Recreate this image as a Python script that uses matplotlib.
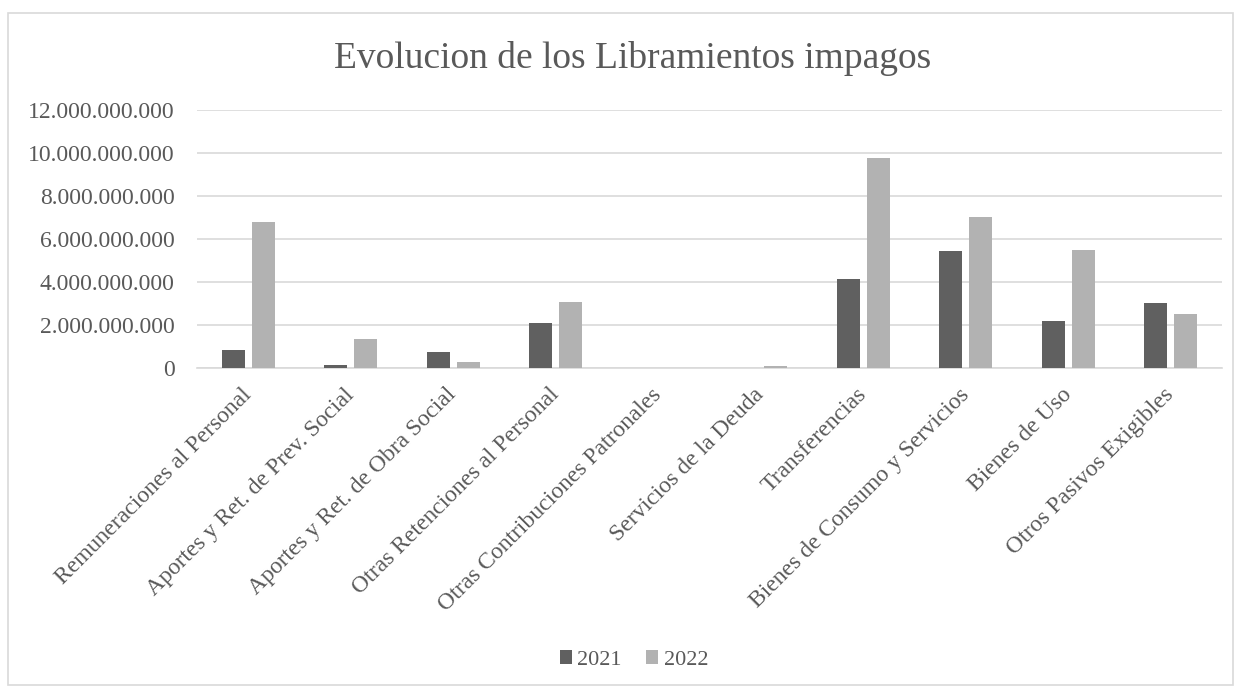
import matplotlib.pyplot as plt
import matplotlib.ticker as mticker
import numpy as np

categorias = ['Remuneraciones al Personal', 'Aportes y Ret. de Prev. Social',
              'Aportes y Ret. de Obra Social', 'Otras Retenciones al Personal',
              'Otras Contribuciones Patronales', 'Servicios de la Deuda',
              'Transferencias', 'Bienes de Consumo y Servicios', 'Bienes de Uso',
              'Otros Pasivos Exigibles']
v2021 = [0.84e9, 0.12e9, 0.74e9, 2.09e9, 0.0, 0.0, 4.14e9, 5.44e9, 2.19e9, 3.01e9]
v2022 = [6.79e9, 1.33e9, 0.26e9, 3.05e9, 0.0, 0.10e9, 9.77e9, 7.04e9, 5.49e9, 2.53e9]

plt.rcParams['font.family'] = ['Liberation Serif', 'DejaVu Serif']
gris = '#595959'

fig = plt.figure(figsize=(12.41, 6.89), dpi=100)
ax = fig.add_axes([197 / 1241, 1 - 368 / 689, 1025 / 1241, 258 / 689])

x = np.arange(len(categorias))
w = 0.225
ax.bar(x - 0.145, v2021, w, color='#606060', label='2021', zorder=3)
ax.bar(x + 0.145, v2022, w, color='#b2b2b2', label='2022', zorder=3)

ax.set_xlim(-0.5, len(categorias) - 0.5)
ax.set_ylim(0, 12e9)
ax.yaxis.set_major_locator(mticker.MultipleLocator(2e9))
ax.yaxis.set_major_formatter(mticker.FuncFormatter(lambda v, p: f'{v:,.0f}'.replace(',', '.')))
ax.grid(axis='y', color='#d9d9d9', linewidth=1.2, zorder=0)
for s in ['top', 'right', 'left']:
    ax.spines[s].set_visible(False)
ax.spines['bottom'].set_color('#d9d9d9')
ax.spines['bottom'].set_linewidth(1.2)
ax.tick_params(axis='both', length=0, labelsize=17, labelcolor=gris)
ax.tick_params(axis='y', pad=16)
ax.tick_params(axis='x', pad=17)
ax.set_xticks(x)
ax.set_xticklabels(categorias, rotation=45, ha='right', va='center', rotation_mode='anchor')

fig.text(633 / 1241, 1 - 58 / 689, 'Evolucion de los Libramientos impagos', ha='center', va='center',
         fontsize=27, color=gris)
fig.legend(loc='center', bbox_to_anchor=(634 / 1241, 1 - 660 / 689), ncol=2, frameon=False,
           fontsize=16, labelcolor=gris, handlelength=0.55, handleheight=0.55,
           handletextpad=0.25, columnspacing=1.1)

fig.patches.append(plt.Rectangle((8 / 1241, 4 / 689), 1225 / 1241, 672 / 689, transform=fig.transFigure,
                                 fill=False, edgecolor='#d9d9d9', linewidth=1.2))
fig.savefig('out.png', dpi=100)
